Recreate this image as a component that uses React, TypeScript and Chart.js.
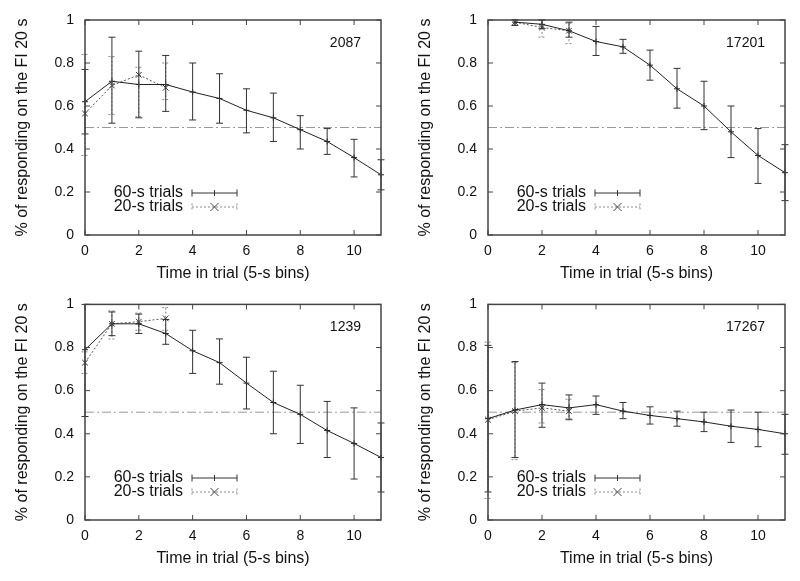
import { useEffect, useRef } from "react";
import { Chart, registerables } from "chart.js";

Chart.register(...registerables);

// ---------- data ----------
const timeBins = [0, 1, 2, 3, 4, 5, 6, 7, 8, 9, 10, 11];
const xTickValues = [0, 2, 4, 6, 8, 10];
const yTickValues = [0, 0.2, 0.4, 0.6, 0.8, 1];
const referenceLevel = 0.5;
const legendLabels = ["60-s trials", "20-s trials"];
const xTitle = "Time in trial (5-s bins)";
const yTitle = "% of responding on the FI 20 s";

// Panel 2087
const mean60A = [0.62, 0.715, 0.70, 0.70, 0.665, 0.635, 0.58, 0.545, 0.49, 0.435, 0.36, 0.28];
const hi60A = [0.77, 0.92, 0.855, 0.835, 0.80, 0.75, 0.68, 0.66, 0.555, 0.495, 0.445, 0.35];
const lo60A = [0.47, 0.52, 0.545, 0.575, 0.535, 0.52, 0.475, 0.435, 0.40, 0.375, 0.27, 0.21];
const mean20A = [0.565, 0.695, 0.745, 0.685];
const hi20A = [0.84, 0.83, 0.78, 0.80];
const lo20A = [0.37, 0.56, 0.55, 0.63];

// Panel 17201
const mean60B = [null, 0.99, 0.98, 0.95, 0.90, 0.875, 0.79, 0.68, 0.60, 0.48, 0.37, 0.29];
const hi60B = [null, 1.0, 1.0, 0.99, 0.97, 0.91, 0.86, 0.775, 0.715, 0.60, 0.495, 0.42];
const lo60B = [null, 0.975, 0.96, 0.92, 0.835, 0.845, 0.72, 0.59, 0.49, 0.36, 0.24, 0.16];
const mean20B = [null, 0.99, 0.965, 0.95];
const hi20B = [null, 1.0, 1.0, 0.985];
const lo20B = [null, 0.975, 0.92, 0.89];

// Panel 1239
const mean60C = [0.79, 0.91, 0.91, 0.865, 0.785, 0.73, 0.635, 0.545, 0.49, 0.415, 0.355, 0.29];
const hi60C = [1.0, 0.965, 0.955, 0.93, 0.88, 0.84, 0.755, 0.69, 0.625, 0.55, 0.52, 0.45];
const lo60C = [0.48, 0.855, 0.865, 0.815, 0.68, 0.63, 0.515, 0.40, 0.355, 0.29, 0.19, 0.13];
const mean20C = [0.73, 0.91, 0.92, 0.935];
const hi20C = [0.78, 0.97, 0.96, 0.985];
const lo20C = [0.68, 0.84, 0.88, 0.88];

// Panel 17267
const mean60D = [0.47, 0.51, 0.535, 0.52, 0.535, 0.505, 0.485, 0.47, 0.455, 0.435, 0.42, 0.40];
const hi60D = [0.81, 0.735, 0.635, 0.58, 0.575, 0.545, 0.525, 0.505, 0.50, 0.51, 0.50, 0.49];
const lo60D = [0.13, 0.29, 0.43, 0.465, 0.49, 0.47, 0.445, 0.435, 0.41, 0.36, 0.34, 0.305];
const mean20D = [0.465, 0.505, 0.52, 0.505];
const hi20D = [0.825, 0.73, 0.605, 0.56];
const lo20D = [0.10, 0.28, 0.45, 0.47];

const FONT = '"Liberation Sans", Arial, Helvetica, sans-serif';

type PanelData = {
  label: string;
  mean60: (number | null)[];
  hi60: (number | null)[];
  lo60: (number | null)[];
  mean20: (number | null)[];
  hi20: (number | null)[];
  lo20: (number | null)[];
};

const panels: PanelData[] = [
  { label: "2087", mean60: mean60A, hi60: hi60A, lo60: lo60A, mean20: mean20A, hi20: hi20A, lo20: lo20A },
  { label: "17201", mean60: mean60B, hi60: hi60B, lo60: lo60B, mean20: mean20B, hi20: hi20B, lo20: lo20B },
  { label: "1239", mean60: mean60C, hi60: hi60C, lo60: lo60C, mean20: mean20C, hi20: hi20C, lo20: lo20C },
  { label: "17267", mean60: mean60D, hi60: hi60D, lo60: lo60D, mean20: mean20D, hi20: hi20D, lo20: lo20D },
];

// layout only
const layouts = [
  { left: 0, top: 0, yWidth: 85, padRight: 19, padTop: 20, yTitlePad: 14 },
  { left: 400, top: 0, yWidth: 88, padRight: 15, padTop: 20, yTitlePad: 17 },
  { left: 0, top: 285, yWidth: 85, padRight: 19, padTop: 19, yTitlePad: 14 },
  { left: 400, top: 285, yWidth: 88, padRight: 15, padTop: 19, yTitlePad: 17 },
];

function toPoints(vals: (number | null)[]) {
  const pts: { x: number; y: number }[] = [];
  vals.forEach((v, i) => {
    if (v !== null && v !== undefined) pts.push({ x: timeBins[i], y: v });
  });
  return pts;
}

function drawErrBars(ctx: CanvasRenderingContext2D, x: any, y: any, mean: (number | null)[], hi: (number | null)[], lo: (number | null)[], color: string, dash: number[]) {
  ctx.save();
  ctx.strokeStyle = color;
  ctx.lineWidth = 1;
  ctx.setLineDash(dash);
  mean.forEach((m, i) => {
    const h = hi[i];
    const l = lo[i];
    if (m === null || h === null || l === null || h === undefined || l === undefined) return;
    const px = x.getPixelForValue(timeBins[i]);
    const ph = y.getPixelForValue(h);
    const pl = y.getPixelForValue(l);
    ctx.beginPath();
    ctx.moveTo(px, ph);
    ctx.lineTo(px, pl);
    ctx.moveTo(px - 3.5, ph);
    ctx.lineTo(px + 3.5, ph);
    ctx.moveTo(px - 3.5, pl);
    ctx.lineTo(px + 3.5, pl);
    ctx.stroke();
  });
  ctx.restore();
}

function makePlugin(p: PanelData) {
  return {
    id: "panelDecor",
    afterDatasetsDraw(chart: any) {
      const { ctx, scales } = chart;
      drawErrBars(ctx, scales.x, scales.y, p.mean20, p.hi20, p.lo20, "#888", [2, 2]);
      drawErrBars(ctx, scales.x, scales.y, p.mean60, p.hi60, p.lo60, "#333", []);
    },
    afterDraw(chart: any) {
      const { ctx, chartArea: a, scales } = chart;
      ctx.save();
      // frame
      ctx.strokeStyle = "#444";
      ctx.lineWidth = 1.5;
      ctx.setLineDash([]);
      ctx.strokeRect(a.left, a.top, a.right - a.left, a.bottom - a.top);
      // inward ticks
      ctx.lineWidth = 1;
      ctx.beginPath();
      xTickValues.forEach((v) => {
        const px = scales.x.getPixelForValue(v);
        ctx.moveTo(px, a.bottom);
        ctx.lineTo(px, a.bottom - 5);
        ctx.moveTo(px, a.top);
        ctx.lineTo(px, a.top + 5);
      });
      yTickValues.forEach((v) => {
        const py = scales.y.getPixelForValue(v);
        ctx.moveTo(a.left, py);
        ctx.lineTo(a.left + 5, py);
        ctx.moveTo(a.right, py);
        ctx.lineTo(a.right - 5, py);
      });
      ctx.stroke();

      // panel label
      ctx.fillStyle = "#111";
      ctx.font = `14px ${FONT}`;
      ctx.textAlign = "right";
      ctx.textBaseline = "middle";
      ctx.fillText(p.label, a.right - 20, a.top + 23);

      // legend
      const tx = a.left + 98;
      const y1 = a.bottom - 42;
      const y2 = a.bottom - 28;
      const s0 = a.left + 107;
      const s1 = a.left + 152;
      const sm = (s0 + s1) / 2;
      ctx.font = `16px ${FONT}`;
      ctx.fillText(legendLabels[0], tx, y1);
      ctx.fillText(legendLabels[1], tx, y2);

      ctx.strokeStyle = "#333";
      ctx.lineWidth = 1;
      ctx.beginPath();
      ctx.moveTo(s0, y1);
      ctx.lineTo(s1, y1);
      ctx.moveTo(s0, y1 - 3.5);
      ctx.lineTo(s0, y1 + 3.5);
      ctx.moveTo(s1, y1 - 3.5);
      ctx.lineTo(s1, y1 + 3.5);
      ctx.moveTo(sm, y1 - 3);
      ctx.lineTo(sm, y1 + 3);
      ctx.stroke();

      ctx.strokeStyle = "#888";
      ctx.setLineDash([2, 2]);
      ctx.beginPath();
      ctx.moveTo(s0, y2);
      ctx.lineTo(s1, y2);
      ctx.moveTo(s0, y2 - 3.5);
      ctx.lineTo(s0, y2 + 3.5);
      ctx.moveTo(s1, y2 - 3.5);
      ctx.lineTo(s1, y2 + 3.5);
      ctx.stroke();
      ctx.setLineDash([]);
      ctx.strokeStyle = "#444";
      ctx.beginPath();
      ctx.moveTo(sm - 4, y2 - 4);
      ctx.lineTo(sm + 4, y2 + 4);
      ctx.moveTo(sm + 4, y2 - 4);
      ctx.lineTo(sm - 4, y2 + 4);
      ctx.stroke();
      ctx.restore();
    },
  };
}

function Panel({ data, layout }: { data: PanelData; layout: (typeof layouts)[number] }) {
  const ref = useRef<HTMLCanvasElement>(null);
  useEffect(() => {
    if (!ref.current) return;
    const chart = new Chart(ref.current, {
      type: "line",
      data: {
        datasets: [
          {
            label: legendLabels[0],
            data: toPoints(data.mean60),
            borderColor: "#222",
            borderWidth: 1,
            pointStyle: "cross",
            pointRadius: 3,
            pointBorderColor: "#222",
            pointBorderWidth: 1,
            tension: 0,
            clip: false,
          },
          {
            label: legendLabels[1],
            data: toPoints(data.mean20),
            borderColor: "#555",
            borderWidth: 1,
            borderDash: [2, 2],
            pointStyle: "crossRot",
            pointRadius: 4,
            pointBorderColor: "#333",
            pointBorderWidth: 1,
            tension: 0,
            clip: false,
          },
          {
            label: "ref",
            data: [
              { x: timeBins[0], y: referenceLevel },
              { x: timeBins[timeBins.length - 1], y: referenceLevel },
            ],
            borderColor: "#999",
            borderWidth: 1,
            borderDash: [9, 3, 2, 3],
            pointRadius: 0,
          },
        ],
      } as any,
      options: {
        responsive: false,
        animation: false,
        events: [],
        layout: { padding: { left: 0, right: layout.padRight, top: layout.padTop, bottom: 0 } },
        plugins: { legend: { display: false }, tooltip: { enabled: false } },
        scales: {
          x: {
            type: "linear",
            min: 0,
            max: 11,
            grid: { display: false, drawTicks: false },
            border: { display: false },
            afterBuildTicks: (s: any) => {
              s.ticks = xTickValues.map((v) => ({ value: v }));
            },
            afterFit: (s: any) => {
              s.height = 55;
            },
            ticks: {
              padding: 8,
              color: "#111",
              font: { family: FONT, size: 14, lineHeight: 1.2 },
              callback: (v: any) => String(v),
              maxRotation: 0,
            },
            title: {
              display: true,
              text: xTitle,
              color: "#111",
              font: { family: FONT, size: 16, lineHeight: 1.2 },
              padding: { top: 0, bottom: 7 },
            },
          },
          y: {
            type: "linear",
            min: 0,
            max: 1,
            grid: { display: false, drawTicks: false },
            border: { display: false },
            afterBuildTicks: (s: any) => {
              s.ticks = yTickValues.map((v) => ({ value: v }));
            },
            afterFit: (s: any) => {
              s.width = layout.yWidth;
            },
            ticks: {
              padding: 11,
              color: "#111",
              font: { family: FONT, size: 14, lineHeight: 1.2 },
              callback: (v: any) => String(v),
            },
            title: {
              display: true,
              text: yTitle,
              color: "#111",
              font: { family: FONT, size: 16, lineHeight: 1.2 },
              padding: { top: layout.yTitlePad - 1, bottom: 0 },
            },
          },
        },
      },
      plugins: [makePlugin(data)],
    } as any);
    return () => chart.destroy();
  }, [data, layout]);
  return (
    <canvas
      ref={ref}
      width={400}
      height={290}
      style={{ position: "absolute", left: layout.left, top: layout.top, width: 400, height: 290 }}
    />
  );
}

export default function App() {
  return (
    <div style={{ position: "absolute", left: 0, top: 0, width: 800, height: 581, background: "#fff" }}>
      {panels.map((p, i) => (
        <Panel key={p.label} data={p} layout={layouts[i]} />
      ))}
    </div>
  );
}
